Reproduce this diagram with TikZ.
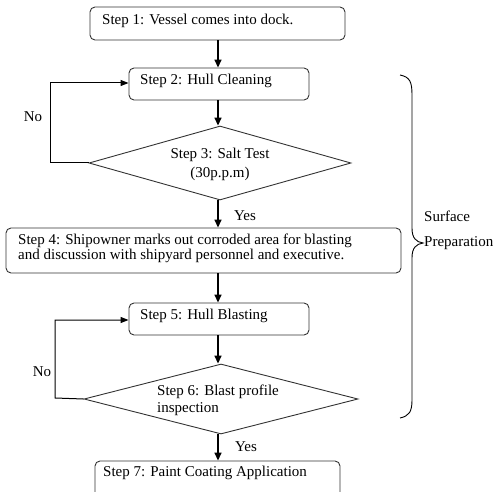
\documentclass[tikz,border=0pt]{standalone}
\usepackage{fontspec}
\setmainfont{Liberation Serif}
\usetikzlibrary{arrows.meta,shapes.geometric}
\begin{document}
\begin{tikzpicture}[x=1pt,y=-1pt,
 box/.style={draw=black!80, line width=0.9pt, rounded corners=5pt, inner sep=0pt},
 dia/.style={draw=black!80, line width=0.9pt, diamond, inner sep=0pt},
 txt/.style={inner sep=0pt, font=\fontsize{15}{15}\selectfont},
 flow/.style={line width=1.6pt, -{Triangle[length=8pt,width=7pt]}},
 back/.style={line width=1pt, -{Triangle[length=8pt,width=6pt]}}]
\useasboundingbox (0,0) rectangle (498,492);
\clip (0,0) rectangle (498,492);
% boxes
\node[box, minimum width=255, minimum height=33] (s1) at (217.5,23.5) {};
\node[box, minimum width=180, minimum height=32] (s2) at (219,84) {};
\node[dia, minimum width=262, minimum height=74] (d3) at (220,163) {};
\node[box, minimum width=395, minimum height=45] (s4) at (203.5,250.5) {};
\node[box, minimum width=180, minimum height=32] (s5) at (219,319) {};
\node[dia, minimum width=274, minimum height=70] (d6) at (221,399) {};
\node[box, minimum width=245, minimum height=40] (s7) at (217.5,481) {};
% texts
\node[txt, anchor=west] (t1) at (102,21) {Step 1: Vessel comes into dock.};
\node[txt, anchor=west] (t2) at (140,81) {Step 2: Hull Cleaning};
\node[txt, align=center] (t3) at (220,164) {Step 3: Salt Test\\[4pt](30p.p.m)};
\node[txt, anchor=west, align=left] (t4) at (18,248) {Step 4: Shipowner marks out corroded area for blasting\\and discussion with shipyard personnel and executive.};
\node[txt, anchor=west] (t5) at (140,316) {Step 5: Hull Blasting};
\node[txt, anchor=west, align=left] (t6) at (157,400) {Step 6: Blast profile\\[2pt]inspection};
\node[txt, anchor=west] (t7) at (103,473) {Step 7: Paint Coating Application};
% labels
\node[txt] (no1) at (33,117) {No};
\node[txt] (no2) at (42,372) {No};
\node[txt] (yes1) at (245,216) {Yes};
\node[txt] (yes2) at (246,447) {Yes};
\node[txt, anchor=west] (sf) at (424,216) {Surface};
\node[txt, anchor=west] (pr) at (424,243) {Preparation};
% flow arrows
\draw[flow] (s1.south -| 218,0) -- (s2.north -| 218,0);
\draw[flow] (s2.south -| 218,0) -- (d3.north -| 218,0);
\draw[flow] (d3.south -| 218,0) -- (s4.north -| 218,0);
\draw[flow] (s4.south -| 218,0) -- (s5.north -| 218,0);
\draw[flow] (s5.south -| 218,0) -- (d6.north -| 218,0);
\draw[flow] (d6.south -| 218,0) -- (s7.north -| 218,0);
% loops
\draw[back] (d3.west) -- (50,163) -- (50,83) -- (s2.west |- 0,83);
\draw[back] (d6.west) -- (55,398) -- (55,320) -- (s5.west |- 0,320);
% brace
\draw[line width=0.9pt] (400,75) .. controls (410,77) and (412,82) .. (412,95)
  -- (412,228) .. controls (412,238) and (416,242) .. (423,243)
  .. controls (416,244) and (412,248) .. (412,258)
  -- (412,400) .. controls (412,412) and (409,416) .. (400,418);
\end{tikzpicture}
\end{document}
